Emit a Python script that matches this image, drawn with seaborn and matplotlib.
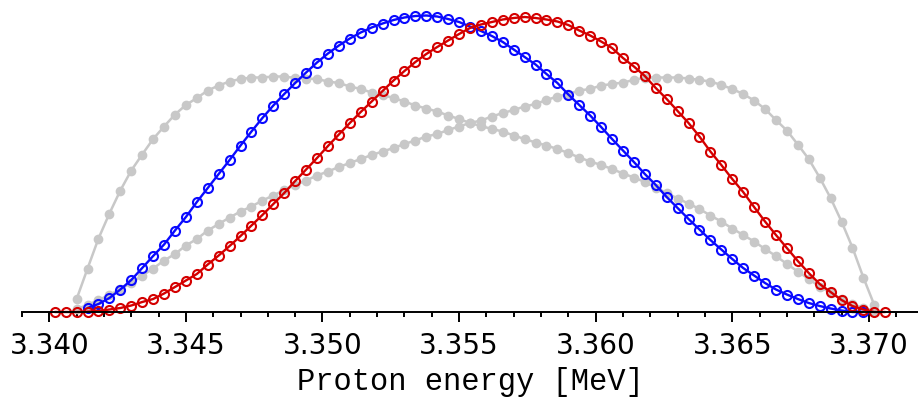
import numpy as np
import pandas as pd
import matplotlib
matplotlib.use('Agg')
import matplotlib.pyplot as plt
import seaborn as sns

# energy grid [MeV], 0.4 keV steps
energy = np.round(3.3402 + 0.0004 * np.arange(77), 4)

# red (k = 0..76)
red = [0, 0, 0, 0.5, 1, 2.5, 4, 6.5, 10, 13, 18.5, 25, 31.5, 38, 47.5, 56.5, 66, 76,
       86.5, 97, 108, 119, 131, 142.5, 154, 166, 177.5, 189, 200, 210.5, 221, 231.5,
       241, 250, 258, 265, 271.5, 278, 284, 287.5, 290, 292.5, 294, 295, 294, 292.5,
       290.5, 287, 281.5, 276.5, 270.5, 264, 254, 245.5, 236, 224, 213, 201, 189,
       175.5, 160.5, 147, 133, 120, 105, 90.5, 77, 64, 51, 39, 28, 20, 12, 6, 2.5, 0, 0]

# blue (k = 3..74)
blue = [4, 8, 14, 22.5, 32, 44, 56, 67.5, 81.5, 95, 110, 124, 138, 152, 166.5, 180.5,
        194, 206.5, 218, 229, 239.5, 249.5, 258.5, 266.5, 273.5, 279.5, 284.5, 288.5,
        292, 294.5, 296, 296.5, 295.5, 293, 290, 285.5, 281, 276, 270, 262.5, 255,
        247.5, 238, 229, 217.5, 207, 196.5, 185, 173, 161.5, 150, 138, 127, 115, 104,
        93, 82.5, 72, 62.5, 53, 44, 36.5, 29, 22.5, 17.5, 13, 9, 6, 3.5, 1.5, 0, 0]

# grey, steep rise on the left (k = 2..75)
grey_a = [13, 43.5, 73.5, 98.5, 121.5, 141.5, 157.5, 173, 185.5, 197.5, 207, 214, 221.5,
          226.5, 230.5, 233, 234.5, 234.5, 235.5, 235.5, 234, 233.5, 233, 230.5, 229,
          225.5, 223, 219.5, 217, 214, 210.5, 206.5, 203.5, 200.5, 196.5, 193, 189,
          186, 183, 180.5, 176.5, 173, 169.5, 166.5, 163, 159, 154.5, 150.5, 147, 143,
          138.5, 134.5, 130, 124.5, 119, 113.5, 108.5, 103, 96.5, 90.5, 83.5, 77, 70.5,
          63, 56, 48, 40.5, 33, 25.5, 19, 13, 8, 4, 1.5]

# grey, steep fall on the right (k = 2..75)
grey_b = [3, 7, 12, 17, 23, 29, 36.5, 43.5, 51.5, 58, 66.5, 73, 81.5, 88, 94.5, 100.5,
          105.5, 111.5, 116.5, 122, 127, 131.5, 136.5, 140.5, 145, 149, 153, 157, 160.5,
          164, 168, 171.5, 175.5, 178, 182, 185.5, 189, 191.5, 195.5, 199, 202, 205.5,
          208, 212, 215.5, 218, 221.5, 223, 226.5, 228, 229.5, 232, 234.5, 234.5, 234.5,
          234.5, 233.5, 232, 230.5, 227, 223, 218, 211.5, 203, 192, 181.5, 167.5, 153,
          134.5, 114, 90.5, 64.5, 34.5, 7]

sns.set_style('white')
plt.rcParams['text.color'] = 'black'
plt.rcParams['xtick.color'] = 'black'
plt.rcParams['axes.labelcolor'] = 'black'

fig = plt.figure(figsize=(9.18, 4.06), dpi=100)
ax = fig.add_axes([22 / 918, 93 / 406, 896 / 918, 313 / 406])

grey = '#c8c8c8'
for g in (grey_a, grey_b):
    sns.lineplot(x=energy[2:76], y=g, ax=ax, color=grey, lw=1.8, marker='o',
                 markersize=7, markerfacecolor=grey, markeredgecolor=grey,
                 markeredgewidth=0, clip_on=False)

sns.lineplot(x=energy[3:75], y=blue, ax=ax, color='#0a0aff', lw=1.7, marker='o',
             markersize=6.5, markerfacecolor='none', markeredgecolor='#0a0aff',
             markeredgewidth=1.5, clip_on=False)
sns.lineplot(x=energy, y=red, ax=ax, color='#d40000', lw=1.7, marker='o',
             markersize=6.5, markerfacecolor='none', markeredgecolor='#d40000',
             markeredgewidth=1.5, clip_on=False)

ax.set_xlim(3.339, 3.3718)
ax.set_ylim(0, 313)
ax.set_xticks([3.340, 3.345, 3.350, 3.355, 3.360, 3.365, 3.370])
ax.set_xticklabels(['3.340', '3.345', '3.350', '3.355', '3.360', '3.365', '3.370'],
                   fontsize=20, family='DejaVu Sans', color='black')
ax.set_xticks(np.round(np.arange(3.339, 3.3719, 0.001), 3), minor=True)
ax.tick_params(axis='x', which='major', direction='out', length=7, width=1.4,
               color='black', pad=7, bottom=True)
ax.tick_params(axis='x', which='minor', direction='out', length=3.6, width=1.4,
               color='black', bottom=True)
ax.set_yticks([])
ax.set_ylabel('')
for s in ('left', 'top', 'right'):
    ax.spines[s].set_visible(False)
ax.spines['bottom'].set_linewidth(1.4)
ax.spines['bottom'].set_color('black')
ax.set_xlabel('Proton energy [MeV]', fontsize=22, family='Liberation Mono',
              color='black', labelpad=5)

fig.savefig('out.png', dpi=100)
